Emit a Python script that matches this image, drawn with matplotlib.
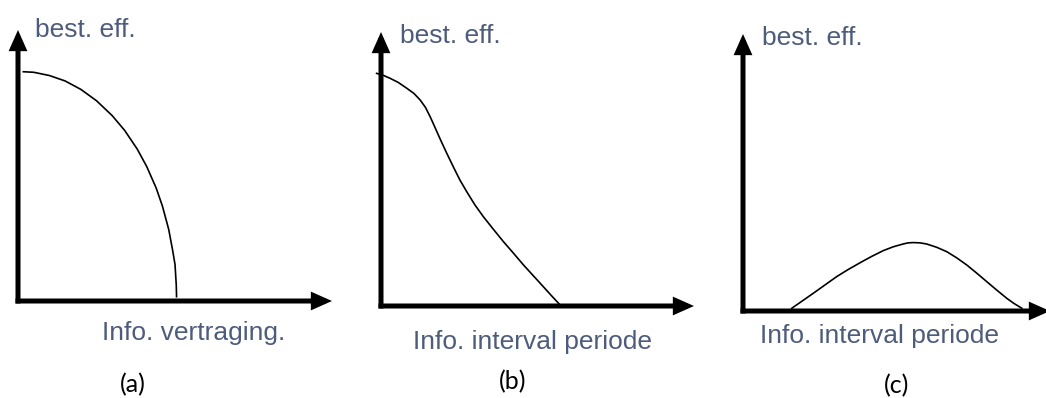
import matplotlib.pyplot as plt

W, H = 1046, 398

# curve readings, both axes scaled 0..100
a_x = [1.7, 5.0, 10.0, 15.0, 20.0, 25.0, 30.0, 34.0, 38.0, 41.0, 44.0,
       46.0, 48.0, 49.2, 50.0, 50.4, 50.5]
a_y = [84.6, 84.4, 83.2, 81.2, 78.1, 73.9, 68.4, 62.9, 56.0, 49.6, 41.7,
       35.0, 26.4, 19.0, 13.5, 6.0, 1.6]

b_x = [-1.4, 0.5, 2.9, 5.5, 8.2, 10.5, 12.5, 14.2, 15.7, 17.2, 18.8, 20.9,
       23.1, 25.2, 27.4, 30.0, 32.7, 35.9, 39.1, 42.3, 45.5, 48.7, 51.9,
       54.6, 57.2]
b_y = [84.9, 84.3, 83.1, 81.6, 79.5, 77.6, 75.2, 72.5, 69.1, 65.3, 61.2,
       56.0, 50.8, 46.0, 41.7, 36.9, 32.6, 28.0, 23.5, 19.3, 15.0, 11.0,
       7.0, 3.6, 0.4]

c_x = [15.9, 19.4, 22.9, 26.7, 30.5, 34.3, 38.1, 41.9, 45.7, 49.0, 52.2,
       53.8, 55.5, 57.6, 59.8, 63.1, 66.4, 69.6, 72.9, 76.1, 79.4, 82.6,
       85.9, 88.3, 90.8]
c_y = [1.0, 3.7, 6.4, 9.4, 12.4, 15.0, 17.4, 19.7, 21.8, 23.2, 24.2,
       24.6, 24.7, 24.6, 24.2, 23.0, 21.4, 19.2, 16.6, 13.7, 10.6, 7.6,
       4.6, 2.7, 1.0]

y_label = 'best. eff.'
x_labels = ['Info. vertraging.', 'Info. interval periode', 'Info. interval periode']
tags = ['(a)', '(b)', '(c)']

slate = '#4e5c7c'
label_font = ['Liberation Sans', 'DejaVu Sans']


def px(x, y):
    return x / W, 1 - y / H


fig = plt.figure(figsize=(W / 100, H / 100), dpi=100)

# panel boxes in pixels: origin x, origin y, width, height
boxes = [(18, 301, 314, 271), (381, 306, 313, 274), (743, 311, 307, 277)]
curves = [(a_x, a_y), (b_x, b_y), (c_x, c_y)]
ylab_pos = [(35, 37), (400, 43), (762, 45)]
xlab_pos = [(102, 340), (413, 349), (760, 343)]
tag_pos = [(133, 385), (513, 382), (897, 386)]

for (ox, oy, w, h), (cx, cy) in zip(boxes, curves):
    ax = fig.add_axes([ox / W, (H - oy) / H, w / W, h / H])
    ax.set_xlim(0, 100)
    ax.set_ylim(0, 100)
    ax.axis('off')
    ax.plot(cx, cy, color='black', lw=1.2, clip_on=False,
            solid_joinstyle='round')
    d = 2.5 / w * 100
    e = 2.5 / h * 100
    arrow = dict(arrowstyle='-|>,head_length=0.45,head_width=0.2',
                 lw=3.6, color='black', mutation_scale=20,
                 shrinkA=0, shrinkB=0, joinstyle='miter', capstyle='butt')
    ax.annotate('', xy=(100, 0), xytext=(-d, 0), arrowprops=arrow,
                annotation_clip=False)
    ax.annotate('', xy=(0, 100), xytext=(0, -e), arrowprops=arrow,
                annotation_clip=False)

for (x, y), (x2, y2), (x3, y3), lab, tag in zip(ylab_pos, xlab_pos, tag_pos,
                                                 x_labels, tags):
    fig.text(*px(x, y), y_label, color=slate, fontsize=19,
             family=label_font, va='baseline', ha='left')
    fig.text(*px(x2, y2), lab, color=slate, fontsize=19,
             family=label_font, va='baseline', ha='left')
    fig.text(*px(x3, y3), tag, color='black', fontsize=18,
             family=['Lato', 'DejaVu Sans'], va='center', ha='center')

plt.savefig('out.png', dpi=100)
